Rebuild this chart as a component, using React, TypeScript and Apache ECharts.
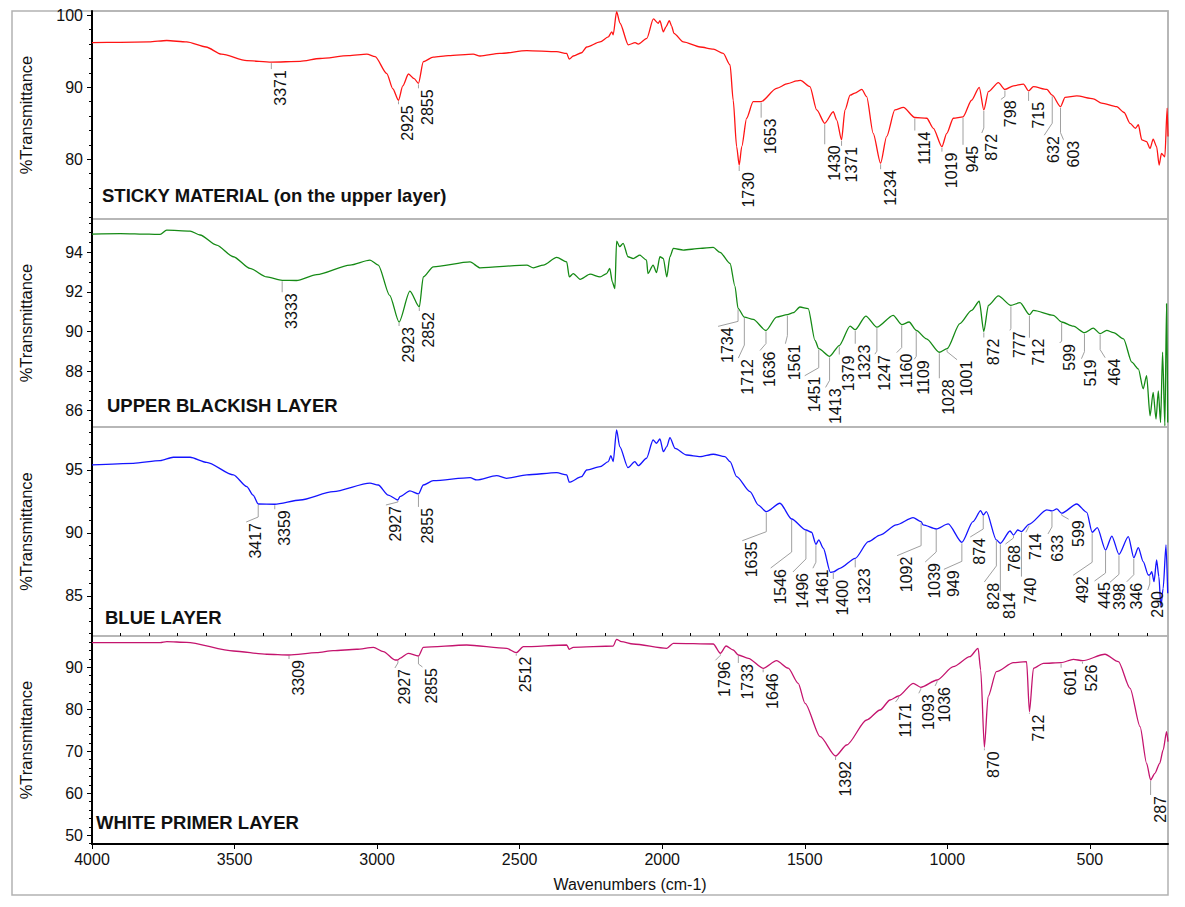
import React, { useEffect, useRef } from "react";
import * as echarts from "echarts";

const FONT = 'Arial, "Liberation Sans", Helvetica, sans-serif';

// ---------- spectra: [wavenumber, %T] ----------
const stickySpectrum: number[][] = [
  [4000, 96.2], [3900, 96.25], [3800, 96.3], [3738, 96.5], [3668, 96.3], [3600, 95.6], [3546, 94.6],
  [3457, 93.7], [3371, 93.5], [3270, 93.6], [3200, 94.0], [3100, 94.4], [3036, 94.6], [3007, 94.25],
  [2966, 91.9], [2945, 89.8], [2925, 88.2], [2910, 90.2], [2890, 91.85], [2870, 91.2], [2855, 90.55],
  [2838, 93.55], [2803, 94.2], [2750, 94.4], [2663, 94.6], [2639, 94.35], [2569, 94.7], [2475, 95.1],
  [2370, 94.95], [2335, 94.7], [2326, 93.9], [2312, 94.35], [2283, 94.8], [2265, 95.6], [2218, 96.3],
  [2189, 97.0], [2177, 97.7], [2172, 97.3], [2160, 100.5], [2148, 98.9], [2119, 95.9], [2095, 96.2],
  [2084, 96.0], [2054, 96.8], [2031, 99.5], [2014, 98.9], [2008, 99.25], [1996, 97.7], [1987, 98.4],
  [1975, 99.25], [1967, 98.5], [1959, 97.5], [1926, 96.3], [1867, 95.6], [1821, 95.3], [1786, 94.7],
  [1762, 93.1], [1751, 88.2], [1739, 81.75], [1730, 79.2], [1721, 81.75], [1704, 85.7], [1681, 88.0],
  [1653, 88.0], [1599, 89.85], [1560, 90.5], [1528, 90.9], [1515, 90.95], [1482, 90.1], [1458, 86.85],
  [1430, 85.0], [1400, 86.6], [1388, 85.45], [1371, 82.7], [1359, 86.85], [1341, 88.9], [1324, 89.2],
  [1300, 89.7], [1283, 88.7], [1260, 83.6], [1234, 79.45], [1213, 83.15], [1184, 86.85], [1154, 87.2],
  [1114, 85.8], [1072, 85.7], [1049, 84.3], [1019, 81.75], [1002, 83.6], [979, 85.7], [945, 85.9],
  [915, 88.2], [888, 90.0], [872, 86.85], [856, 89.4], [821, 90.65], [798, 89.7], [768, 90.2],
  [733, 90.45], [715, 89.5], [698, 90.1], [651, 89.7], [632, 88.9], [603, 87.3], [587, 88.6],
  [546, 88.8], [488, 88.4], [459, 87.8], [406, 87.3], [380, 86.5], [359, 85.0], [340, 84.3],
  [330, 84.8], [318, 82.7], [301, 82.45], [289, 81.5], [278, 82.8], [266, 81.75], [257, 79.2],
  [249, 80.8], [237, 80.35], [229, 87.1], [226, 83.15],
];

const blackishSpectrum: number[][] = [
  [4000, 94.93], [3900, 94.95], [3800, 94.92], [3761, 94.91], [3738, 95.13], [3656, 95.08], [3621, 94.88],
  [3563, 94.37], [3504, 93.78], [3446, 93.19], [3387, 92.76], [3333, 92.59], [3283, 92.58], [3212, 92.88],
  [3095, 93.36], [3025, 93.61], [2996, 93.36], [2956, 91.83], [2923, 90.48], [2885, 92.04], [2852, 91.24],
  [2838, 92.76], [2803, 93.27], [2674, 93.52], [2639, 93.22], [2475, 93.36], [2452, 93.22], [2417, 93.36],
  [2370, 93.75], [2335, 93.52], [2326, 92.76], [2312, 92.93], [2288, 92.64], [2253, 92.9], [2218, 92.76],
  [2195, 92.93], [2184, 93.19], [2175, 92.51], [2166, 92.17], [2160, 94.57], [2149, 94.29], [2137, 94.46],
  [2120, 93.78], [2102, 93.69], [2079, 93.86], [2055, 93.61], [2050, 92.93], [2032, 93.36], [2020, 92.98],
  [2008, 93.78], [1996, 93.69], [1984, 92.76], [1973, 93.78], [1961, 94.2], [1926, 94.12], [1867, 94.2],
  [1821, 94.25], [1797, 94.0], [1762, 93.44], [1745, 92.3], [1734, 91.17], [1712, 90.73], [1681, 90.61],
  [1636, 90.05], [1599, 90.73], [1561, 90.85], [1540, 90.95], [1517, 91.24], [1488, 91.16], [1464, 89.55],
  [1451, 89.13], [1413, 88.74], [1379, 89.29], [1341, 90.27], [1323, 90.09], [1286, 90.78], [1247, 90.22],
  [1190, 90.82], [1160, 90.35], [1134, 90.48], [1109, 90.06], [1073, 89.63], [1028, 88.95], [1001, 89.13],
  [956, 90.4], [915, 91.07], [888, 91.53], [872, 90.0], [856, 91.32], [821, 91.8], [777, 91.32],
  [745, 91.46], [712, 90.85], [698, 91.07], [628, 90.82], [599, 90.48], [558, 90.27], [519, 89.94],
  [488, 90.17], [464, 89.89], [441, 90.06], [417, 89.94], [382, 89.63], [353, 88.45], [330, 88.11],
  [313, 87.1], [301, 87.77], [289, 85.74], [278, 86.92], [268, 85.57], [260, 87.0], [252, 85.4],
  [245, 88.95], [237, 85.23], [231, 91.41], [227, 85.4],
];

const blueSpectrum: number[][] = [
  [4000, 95.39], [3855, 95.52], [3761, 95.73], [3715, 96.0], [3656, 96.0], [3598, 95.6], [3504, 94.6],
  [3457, 93.67], [3435, 93.0], [3417, 92.29], [3359, 92.27], [3270, 92.61], [3154, 93.27], [3025, 93.94],
  [2996, 93.8], [2961, 93.0], [2927, 92.61], [2920, 92.87], [2885, 93.33], [2855, 93.09], [2838, 93.8],
  [2803, 94.14], [2674, 94.38], [2651, 94.2], [2581, 94.54], [2546, 94.33], [2475, 94.6], [2370, 94.78],
  [2335, 94.6], [2326, 94.02], [2283, 94.46], [2265, 94.99], [2218, 95.25], [2189, 95.65], [2180, 96.13],
  [2172, 95.65], [2160, 98.17], [2149, 96.84], [2120, 95.17], [2096, 95.65], [2084, 95.33], [2055, 95.92],
  [2032, 97.37], [2020, 97.11], [2008, 97.45], [1996, 96.44], [1984, 96.84], [1973, 97.56], [1955, 96.71],
  [1914, 96.18], [1867, 96.05], [1821, 96.24], [1780, 96.05], [1762, 95.65], [1739, 94.46], [1692, 93.27],
  [1663, 92.21], [1635, 91.68], [1587, 92.35], [1546, 91.1], [1496, 90.23], [1476, 90.05], [1461, 89.1],
  [1451, 89.44], [1435, 88.78], [1410, 86.87], [1400, 86.9], [1377, 87.19], [1323, 87.98], [1277, 89.3],
  [1236, 89.83], [1179, 90.63], [1120, 91.21], [1092, 90.89], [1085, 90.63], [1039, 90.31], [997, 90.71],
  [949, 89.25], [910, 90.89], [883, 91.76], [874, 91.42], [863, 91.68], [828, 89.44], [814, 89.17],
  [780, 90.15], [768, 89.83], [753, 90.23], [740, 90.1], [714, 90.68], [651, 91.82], [633, 91.74],
  [616, 91.9], [599, 91.56], [546, 92.29], [511, 91.63], [492, 90.05], [474, 90.41], [445, 88.64],
  [423, 89.75], [398, 88.3], [365, 89.7], [346, 88.03], [330, 88.83], [313, 87.72], [295, 86.66],
  [290, 86.66], [283, 86.92], [275, 86.13], [266, 87.85], [258, 86.52], [251, 84.14], [243, 85.6],
  [233, 89.04], [227, 85.21],
];

const primerSpectrum: number[][] = [
  [4000, 95.86], [3761, 95.86], [3738, 96.1], [3668, 95.95], [3504, 93.88], [3387, 93.1], [3309, 92.93],
  [3212, 93.48], [3154, 93.95], [3072, 94.29], [3013, 94.76], [2978, 93.71], [2937, 91.74], [2927, 91.74],
  [2920, 92.14], [2891, 93.33], [2855, 92.69], [2838, 94.76], [2686, 95.31], [2546, 94.52], [2512, 93.48],
  [2487, 94.9], [2335, 95.31], [2326, 94.29], [2312, 94.76], [2172, 95.07], [2160, 96.67], [2143, 96.1],
  [2102, 95.55], [1984, 94.52], [1961, 95.71], [1821, 95.55], [1796, 93.33], [1776, 95.07], [1751, 94.12],
  [1733, 92.93], [1698, 92.14], [1646, 89.76], [1599, 91.57], [1558, 89.8], [1523, 86.19], [1499, 81.43],
  [1446, 73.48], [1392, 68.88], [1353, 71.5], [1283, 77.45], [1236, 79.83], [1201, 82.21], [1171, 83.17],
  [1120, 86.19], [1093, 85.24], [1036, 86.98], [979, 90.14], [921, 92.52], [892, 94.52], [883, 89.36],
  [870, 70.95], [857, 83.0], [828, 88.95], [768, 91.1], [722, 91.33], [712, 79.43], [698, 89.76],
  [663, 90.95], [601, 91.1], [558, 91.9], [526, 91.57], [447, 93.1], [400, 91.33], [359, 85.0],
  [324, 75.86], [301, 67.14], [287, 63.17], [272, 64.76], [255, 67.14], [243, 70.31], [231, 74.67],
  [226, 72.29],
];

// ---------- labelled peaks: [wavenumber, %T] ----------
const stickyPeaks: number[][] = [
  [3371, 93.5], [2925, 88.2], [2855, 90.55], [1730, 79.2], [1653, 88.0], [1430, 85.0], [1371, 82.7],
  [1234, 79.45], [1114, 85.8], [1019, 81.75], [945, 85.9], [872, 86.85], [798, 89.7], [715, 89.5],
  [632, 88.9], [603, 87.3],
];
const blackishPeaks: number[][] = [
  [3333, 92.59], [2923, 90.48], [2852, 91.24], [1734, 91.17], [1712, 90.73], [1636, 90.05], [1561, 90.85],
  [1451, 89.13], [1413, 88.74], [1379, 89.29], [1323, 90.09], [1247, 90.22], [1160, 90.35], [1109, 90.06],
  [1028, 88.95], [1001, 89.13], [872, 90.0], [777, 91.32], [712, 90.85], [599, 90.48], [519, 89.94],
  [464, 89.89],
];
const bluePeaks: number[][] = [
  [3417, 92.29], [3359, 92.27], [2927, 92.61], [2855, 93.09], [1635, 91.68], [1546, 91.1], [1496, 90.23],
  [1461, 89.1], [1400, 86.9], [1323, 87.98], [1092, 90.89], [1039, 90.31], [949, 89.25], [874, 91.42],
  [828, 89.44], [814, 89.17], [768, 89.83], [740, 90.1], [714, 90.68], [633, 91.74], [599, 91.56],
  [492, 90.05], [445, 88.64], [398, 88.3], [346, 88.03], [290, 86.66],
];
const primerPeaks: number[][] = [
  [3309, 92.93], [2927, 91.74], [2855, 92.69], [2512, 93.48], [1796, 93.33], [1733, 92.93], [1646, 89.76],
  [1392, 68.88], [1171, 83.17], [1093, 85.24], [1036, 86.98], [870, 70.95], [712, 79.43], [601, 91.1],
  [526, 91.57], [287, 63.17],
];

// leader-line layout per peak label: [vertical px, diagonal dx px, diagonal dy px]
const stickyLeaders: number[][] = [
  [6, 0, 0], [3, 0, 0], [4, 0, 0], [5, 0, 0], [15, 0, 0], [20, 0, 0], [5, 0, 0], [5, 0, 0], [12, 0, 0],
  [4, 0, 0], [27, 0, 0], [17, -2, 5], [6, -4, 3], [9, 0, 0], [27, -8, 12], [25, 3, 7],
];
const blackishLeaders: number[][] = [
  [11, 0, 0], [3, 0, 0], [3, 0, 0], [12, -20, 5], [27, -6, 13], [12, -6, 7], [20, -2, 8], [18, -14, 8],
  [23, -4, 7], [8, 0, 0], [13, 0, 0], [23, -2, 3], [22, -5, 5], [25, -2, 3], [25, 0, 0], [2, 10, 8],
  [5, 0, 0], [22, -1, 2], [22, 0, 0], [18, -2, 2], [18, -3, 7], [15, 5, 8],
];
const blueLeaders: number[][] = [
  [12, -12, 5], [4, 0, 0], [1, -12, 3], [12, 0, 0], [19, -24, 9], [32, -21, 16], [28, -13, 13], [17, -3, 6],
  [6, 0, 0], [8, 0, 0], [23, -24, 10], [22, -11, 10], [18, -18, 8], [13, -13, 8], [25, -12, 16], [47, 0, 0],
  [2, -8, 6], [44, 0, 0], [1, -3, 6], [15, -4, 7], [1, 7, 4], [29, -19, 13], [22, -11, 8], [19, -9, 8],
  [16, -7, 7], [8, -2, 6],
];
const primerLeaders: number[][] = [
  [3, 0, 0], [2, -3, 5], [7, 4, 3], [2, 0, 0], [1, -5, 5], [7, 0, 0], [3, 0, 0], [3, 0, 0], [1, -3, 4],
  [1, -2, 4], [1, -2, 4], [2, 0, 0], [1, 0, 0], [4, 0, 0], [2, 0, 0], [14, 0, 0],
];

const panelTitles = [
  "STICKY MATERIAL (on the upper layer)",
  "UPPER BLACKISH LAYER",
  "BLUE LAYER",
  "WHITE PRIMER LAYER",
];
const panelColors = ["#ff1414", "#158a15", "#1414ff", "#c4146e"];
const spectra = [stickySpectrum, blackishSpectrum, blueSpectrum, primerSpectrum];
const peaks = [stickyPeaks, blackishPeaks, bluePeaks, primerPeaks];
const leaders = [stickyLeaders, blackishLeaders, blueLeaders, primerLeaders];

// axes
const xMin = 226;
const xMax = 4000;
const xMajorTicks = [500, 1000, 1500, 2000, 2500, 3000, 3500, 4000];
const yRanges = [
  [71.7, 100.6],
  [85.17, 95.69],
  [81.82, 98.4],
  [47.93, 97.45],
];
const yMajorTicks = [
  [80, 90, 100],
  [86, 88, 90, 92, 94],
  [85, 90, 95],
  [50, 60, 70, 80, 90],
];
const yMinorSteps = [2, 0.5, 1, 2];

// layout
const gridTops = [11, 219, 427, 636];
const gridHeights = [208, 208, 209, 208];
const titleLefts = [102, 107, 105, 96];
const titleTops = [186, 396, 608, 813];

function stepsBetween(lo: number, hi: number, step: number): number[] {
  const out: number[] = [];
  const start = Math.ceil(lo / step - 1e-9) * step;
  for (let v = start; v <= hi + 1e-9; v += step) out.push(Math.round(v * 1000) / 1000);
  return out;
}

function buildOption() {
  const grids = gridTops.map((top, i) => ({
    left: 92,
    width: 1076,
    top,
    height: gridHeights[i],
    show: true,
    borderColor: "#b2b2b2",
    borderWidth: 1.5,
    backgroundColor: "transparent",
  }));

  const xAxes: any[] = gridTops.map((_, i) => {
    const bottom = i === 3;
    return {
      type: "value",
      gridIndex: i,
      min: xMin,
      max: xMax,
      inverse: true,
      splitLine: { show: false },
      axisLine: { show: bottom, onZero: false, lineStyle: { color: "#000", width: 2 } },
      axisTick: {
        show: bottom,
        customValues: xMajorTicks,
        length: 5,
        lineStyle: { color: "#000", width: 1 },
      },
      axisLabel: {
        show: bottom,
        customValues: xMajorTicks,
        formatter: (v: number) => String(v),
        fontSize: 16,
        fontFamily: FONT,
        color: "#111",
        margin: 7,
      },
      name: bottom ? "Wavenumbers (cm-1)" : "",
      nameLocation: "middle",
      nameGap: 32,
      nameTextStyle: { fontSize: 16, fontFamily: FONT, color: "#111" },
    };
  });
  xAxes.push({
    type: "value",
    gridIndex: 3,
    min: xMin,
    max: xMax,
    inverse: true,
    splitLine: { show: false },
    axisLine: { show: false },
    axisLabel: { show: false },
    axisTick: {
      show: true,
      customValues: stepsBetween(300, 3900, 100),
      length: 3,
      lineStyle: { color: "#000", width: 1 },
    },
  });

  const yAxes: any[] = [];
  yRanges.forEach((r, i) => {
    yAxes.push({
      type: "value",
      gridIndex: i,
      position: "left",
      min: r[0],
      max: r[1],
      splitLine: { show: false },
      axisLine: { show: true, onZero: false, lineStyle: { color: "#000", width: 2 } },
      axisTick: {
        show: true,
        customValues: yMajorTicks[i],
        length: 5,
        lineStyle: { color: "#000", width: 1 },
      },
      axisLabel: {
        show: true,
        customValues: yMajorTicks[i],
        formatter: (v: number) => String(v),
        fontSize: 16,
        fontFamily: FONT,
        color: "#111",
        margin: 9,
      },
      name: "%Transmittance",
      nameLocation: "middle",
      nameGap: 58,
      nameTextStyle: { fontSize: 16.5, fontFamily: FONT, color: "#111" },
    });
  });
  yRanges.forEach((r, i) => {
    yAxes.push({
      type: "value",
      gridIndex: i,
      position: "left",
      min: r[0],
      max: r[1],
      splitLine: { show: false },
      axisLine: { show: false },
      axisLabel: { show: false },
      axisTick: {
        show: true,
        customValues: stepsBetween(r[0], r[1], yMinorSteps[i]),
        length: 3,
        lineStyle: { color: "#000", width: 1 },
      },
    });
  });

  const series: any[] = [];
  spectra.forEach((data, i) => {
    series.push({
      type: "line",
      xAxisIndex: i,
      yAxisIndex: i,
      data,
      symbol: "none",
      showSymbol: false,
      smooth: 0.25,
      smoothMonotone: "x",
      clip: true,
      lineStyle: { color: panelColors[i], width: 1.3 },
      silent: true,
    });
  });
  peaks.forEach((pk, i) => {
    const lay = leaders[i];
    series.push({
      type: "custom",
      xAxisIndex: i,
      yAxisIndex: i,
      data: pk,
      encode: { x: 0, y: 1 },
      clip: false,
      silent: true,
      z: 5,
      renderItem: (params: any, api: any) => {
        const k = params.dataIndex;
        const L = lay[k] || [5, 0, 0];
        const p = api.coord([api.value(0), api.value(1)]);
        const x0 = p[0];
        const y0 = p[1] + 1;
        const y1 = y0 + L[0];
        const x2 = x0 + L[1];
        const y2 = y1 + L[2];
        return {
          type: "group",
          children: [
            {
              type: "polyline",
              shape: { points: [[x0, y0], [x0, y1], [x2, y2]] },
              style: { stroke: "#a0a0a0", lineWidth: 1, fill: null },
            },
            {
              type: "text",
              x: x2 + 9.5,
              y: y2 + 1,
              rotation: Math.PI / 2,
              style: {
                text: String(api.value(0)),
                align: "right",
                verticalAlign: "middle",
                fontSize: 16,
                fontFamily: FONT,
                fill: "#111",
              },
            },
          ],
        };
      },
    });
  });

  return {
    animation: false,
    backgroundColor: "#fff",
    title: panelTitles.map((t, i) => ({
      text: t,
      left: titleLefts[i],
      top: titleTops[i],
      padding: 0,
      textStyle: { fontSize: 18.5, fontWeight: "bold", fontFamily: FONT, color: "#111" },
    })),
    grid: grids,
    xAxis: xAxes,
    yAxis: yAxes,
    series,
    graphic: [
      {
        type: "rect",
        silent: true,
        z: -1,
        shape: { x: 12, y: 11, width: 1156, height: 884 },
        style: { fill: null, stroke: "#b2b2b2", lineWidth: 1.5 },
      },
    ],
  };
}

export default function App() {
  const ref = useRef<HTMLDivElement>(null);
  useEffect(() => {
    if (!ref.current) return;
    const chart = echarts.init(ref.current, null, { renderer: "svg" });
    chart.setOption(buildOption() as any);
    return () => chart.dispose();
  }, []);
  return (
    <div
      ref={ref}
      style={{ position: "absolute", left: 0, top: 0, width: 1185, height: 907, background: "#fff" }}
    />
  );
}
